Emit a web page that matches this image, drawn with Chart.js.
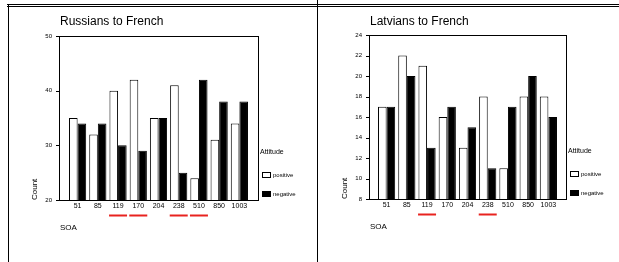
<!DOCTYPE html>
<html>
<head>
<meta charset="utf-8">
<script src="https://cdn.jsdelivr.net/npm/chart.js@4"></script>
<style>
  body { margin: 0; background: #fff; }
  #page { position: relative; width: 619px; height: 262px; overflow: hidden; background: #fff; }
  .ln { position: absolute; background: #000; }
  canvas { position: absolute; }
</style>
</head>
<body>
<div id="page">
  <canvas id="russians" width="307" height="255" style="left:9px;top:7px"></canvas>
  <canvas id="latvians" width="301" height="255" style="left:318px;top:7px"></canvas>
  <div class="ln" style="left:7px;top:4px;width:612px;height:1px"></div>
  <div class="ln" style="left:7px;top:6px;width:612px;height:1px"></div>
  <div class="ln" style="left:8px;top:4px;width:1px;height:258px"></div>
  <div class="ln" style="left:317px;top:0;width:1px;height:262px"></div>
</div>
<script>
var soaLabels = ['51', '85', '119', '170', '204', '238', '510', '850', '1003'];

var russiansPositive = [35, 32, 40, 42, 35, 41, 24, 31, 34];
var russiansNegative = [34, 34, 30, 29, 35, 25, 42, 38, 38];
var russiansUnderlined = ['119', '170', '238', '510'];
var russiansYMin = 20, russiansYMax = 50, russiansYStep = 10;

var latviansPositive = [17, 22, 21, 16, 13, 18, 11, 18, 18];
var latviansNegative = [17, 20, 13, 17, 15, 11, 17, 20, 16];
var latviansUnderlined = ['119', '238'];
var latviansYMin = 8, latviansYMax = 24, latviansYStep = 2;

var FONT = '"Liberation Sans", Arial, sans-serif';
var Y_AXIS_W = 30;
Chart.defaults.font.family = FONT;
Chart.defaults.color = '#000';

// frame, titles, legend and red marks drawn around the bars
var decor = {
  id: 'decor',
  afterDraw(chart, args, opts) {
    var ctx = chart.ctx;
    var ca = chart.chartArea;
    var fl = ca.left - opts.pad;
    var fr = ca.right + opts.pad;
    ctx.save();
    ctx.strokeStyle = '#000';
    ctx.lineWidth = 1;
    ctx.strokeRect(Math.round(fl) + 0.5, Math.round(ca.top) + 0.5,
      Math.round(fr - fl), Math.round(ca.bottom - ca.top));

    // small y tick marks
    var ys = chart.scales.y;
    ys.ticks.forEach(function (t) {
      var y = Math.round(ys.getPixelForValue(t.value)) + 0.5;
      ctx.beginPath();
      ctx.moveTo(fl - 3, y);
      ctx.lineTo(fl, y);
      ctx.stroke();
    });

    ctx.fillStyle = '#000';
    ctx.font = '12px ' + FONT;
    ctx.textAlign = 'left';
    ctx.textBaseline = 'alphabetic';
    ctx.fillText(opts.title, fl + 1, 18);

    ctx.font = '8px ' + FONT;
    ctx.textBaseline = 'middle';
    ctx.fillText('SOA', fl + 1, ca.bottom + 28);

    ctx.save();
    ctx.translate(fl - 24, ca.bottom);
    ctx.rotate(-Math.PI / 2);
    ctx.fillText('Count', 0, 0);
    ctx.restore();

    // legend
    ctx.font = '7px ' + FONT;
    ctx.fillText('Attitude', fr + 2, ca.bottom - 48);
    var boxY = [ca.bottom - 28, ca.bottom - 9];
    chart.data.datasets.forEach(function (ds, i) {
      ctx.fillStyle = ds.backgroundColor;
      ctx.fillRect(fr + 4, boxY[i], 9, 6);
      ctx.strokeRect(fr + 4.5, boxY[i] + 0.5, 8, 5);
      ctx.fillStyle = '#000';
      ctx.font = '6px ' + FONT;
      ctx.fillText(ds.label, fr + 15, boxY[i] + 3);
    });

    // red underlines
    var xs = chart.scales.x;
    ctx.strokeStyle = '#e8231f';
    ctx.lineWidth = 2;
    opts.underlined.forEach(function (lab) {
      var cx = xs.getPixelForValue(soaLabels.indexOf(lab));
      ctx.beginPath();
      ctx.moveTo(cx - 9, ca.bottom + 15.5);
      ctx.lineTo(cx + 9, ca.bottom + 15.5);
      ctx.stroke();
    });
    ctx.restore();
  }
};

function drawChart(id, title, pos, neg, yMin, yMax, yStep, underlined, g) {
  var canvas = document.getElementById(id);
  return new Chart(canvas, {
    type: 'bar',
    data: {
      labels: soaLabels,
      datasets: [
        { label: 'positive', data: pos, backgroundColor: '#fff', borderColor: '#000',
          borderWidth: 1, categoryPercentage: 0.85, barPercentage: 1 },
        { label: 'negative', data: neg, backgroundColor: '#000', borderColor: '#000',
          borderWidth: 1, categoryPercentage: 0.85, barPercentage: 1 }
      ]
    },
    options: {
      responsive: false,
      animation: false,
      devicePixelRatio: 1,
      layout: {
        padding: {
          left: g.left - Y_AXIS_W,
          right: canvas.width - g.right,
          top: g.top,
          bottom: canvas.height - g.bottom - 20
        }
      },
      plugins: {
        legend: { display: false },
        tooltip: { enabled: false },
        decor: { title: title, pad: g.pad, underlined: underlined }
      },
      scales: {
        x: {
          offset: true,
          grid: { display: false, drawTicks: false },
          border: { display: false },
          ticks: { font: { size: 7 }, padding: 2, maxRotation: 0, autoSkip: false },
          afterFit: function (s) { s.height = 20; s.paddingLeft = 0; s.paddingRight = 0; }
        },
        y: {
          min: yMin,
          max: yMax,
          grid: { display: false, drawTicks: false },
          border: { display: false },
          ticks: { stepSize: yStep, font: { size: 6 }, padding: g.pad + 7 },
          afterFit: function (s) { s.width = Y_AXIS_W; s.paddingTop = 0; s.paddingBottom = 0; }
        }
      }
    },
    plugins: [decor]
  });
}

drawChart('russians', 'Russians to French', russiansPositive, russiansNegative,
  russiansYMin, russiansYMax, russiansYStep, russiansUnderlined,
  { left: 58.5, right: 240.5, top: 29, bottom: 193, pad: 8.5 });

drawChart('latvians', 'Latvians to French', latviansPositive, latviansNegative,
  latviansYMin, latviansYMax, latviansYStep, latviansUnderlined,
  { left: 58.5, right: 240.5, top: 28, bottom: 192, pad: 7.5 });
</script>
</body>
</html>
